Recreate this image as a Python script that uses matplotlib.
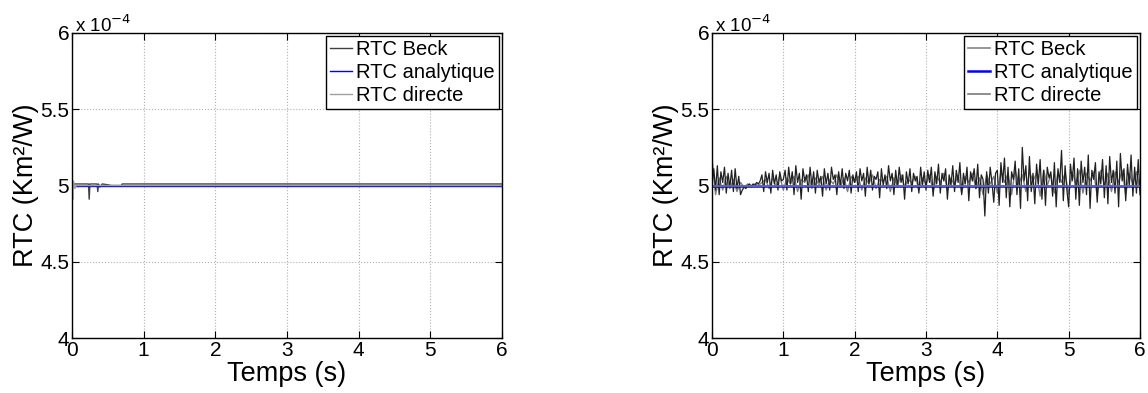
import numpy as np
import matplotlib
matplotlib.use('Agg')
import matplotlib.pyplot as plt
from matplotlib.ticker import FuncFormatter
from matplotlib.lines import Line2D

plt.rcParams['font.family'] = ['Liberation Sans', 'DejaVu Sans']

# valeurs en centièmes de 1e-4 autour de 5e-4
# --- figure de gauche ---
t_beck_g = [0, 0.02, 0.05, 0.23, 0.24, 0.25, 0.35, 0.36, 0.37, 0.39, 0.42, 0.50, 0.55, 0.69, 0.70, 6.0]
d_beck_g = [-2, 1, 1, 1, -9, 1, 1, -4, 1, -1, 1, 0.5, 0, 0, 1, 1]
t_dir_g = [0, 0.01, 0.02, 0.04, 0.06, 6.0]
d_dir_g = [0, -9, 3, -2, 0, 0]
t_ana = [0, 6.0]
d_ana = [0, 0]

# --- figure de droite ---
# RTC directe, pas de 0.025 s
d_dir_d = [
    0, 11, -3, 13, -6, 9, 2, 12, -5, 8, -1, 10, -4, 11, -2, 6,
    -6, -3, -1, -2, 0, 1, -1, 1, 0, 2, 1, 3,
    7, -4, 9, 2, 8, -5, 10, 1, 7, -3, 9, 3,
    4, 10, -3, 12, 1, 9, -6, 13, 2, 8, -9, 11, 3, 7, -4, 12, 0, 9, -5, 10,
    2, 6, -7, 11, 1, 8, -3, 12, 4, 7, -6, 9, 0, 11, -2, 8, 3, 10, -5, 7,
    2, 9, -4, 11, 3, 8, -7, 12, 1, 10, -3, 6, 4, 9, -8, 11, 0, 7, -2, 13,
    3, 8, -6, 10, -1, 12, 2, 7, -9, 9, 1, 11, -4, 8, 3, 6, -5, 12, 0, 9,
    -3, 10, 2, 12, -7, 9, 1, 14, -5, 8, 3, 11, -9, 7, 0, 13, -4, 10, 2, 15,
    -6, 8, 1, 12, -10, 9, 3, 11, -2, 14, -8, 7, 4, -20, 9, -5, 12, 2, -11, 8,
    10, -13, 15, 2, 18, -8, 12, -14, 9, 4, 16, -6, 11, -15, 25, 3, 13, -10, 19, -4,
    8, -12, 14, 1, 17, -9, 10, -13, 12, 5, 9, -7, 15, -14, 11, 2, 23, -10, 13, -3,
    -14, 14, 3, 18, -9, 11, -13, 16, 2, 12, -6, 20, -15, 10, 4, 15, -11, 9, 1, 17,
    -8, 13, -12, 19, 2, 10, -5, 16, -14, 21, 3, 11, -10, 14, 0, 20, -7, 12, -5, 17, -6,
]
# RTC Beck, pas de 0.05 s
d_beck_d = [
    18, -6, 5, -3, 6, -2, 4, -4, 2, -1, 1, 0, 1, 0, 2, 4, -2, 5, -1, 6,
    -3, 5, 1, 6, -4, 4, 2, 7, -2, 5, 0, 6, -3, 4, 1, 7, -1, 5, -4, 6,
    2, 6, -3, 5, 1, 7, -2, 4, 3, 6, -4, 5, 0, 7, -1, 4, 2, 6, -3, 5,
    1, 7, -4, 6, 2, 8, -3, 5, 0, 7, -5, 6, 2, 8, -2, 5, -6, 7, 1, 6,
    -5, 9, 2, 8, -6, 10, 1, 7, -4, 9, 3, 8, -7, 10, 0, 7, -5, 9, 2, 8,
    -6, 9, 1, 10, -5, 8, 3, 9, -7, 10, 0, 8, -4, 9, 2, 10, -6, 8, 1, 9, -3,
]

labels = ['RTC Beck', 'RTC analytique', 'RTC directe']
yticks = [4, 4.5, 5, 5.5, 6]
xticks = [0, 1, 2, 3, 4, 5, 6]


def to_y(d):
    return 5 + np.array(d, dtype=float) / 100


def style_axes(ax, handles):
    ax.set_xlim(0, 6)
    ax.set_ylim(4, 6)
    ax.set_xticks(xticks)
    ax.set_yticks(yticks)
    ax.yaxis.set_major_formatter(FuncFormatter(lambda v, p: '%g' % v))
    ax.tick_params(direction='in', length=5, top=True, right=True, labelsize=15, pad=2)
    ax.grid(True, linestyle=':', color='#b0b0b0', linewidth=0.8)
    for s in ax.spines.values():
        s.set_linewidth(1.0)
    ax.set_xlabel('Temps (s)', fontsize=19.5, labelpad=1)
    ax.set_ylabel('RTC (Km²/W)', fontsize=19.5, labelpad=1)
    ax.text(0.006, 1.004, r'x 10$^{-4}$', transform=ax.transAxes, fontsize=13.5,
            va='baseline', ha='left')
    leg = ax.legend(handles=handles, labels=labels, loc='upper right', fontsize=14.5,
                    handlelength=1.1, handletextpad=0.2, labelspacing=0.2,
                    borderpad=0.2, borderaxespad=0.15, fancybox=False,
                    framealpha=1, edgecolor='black')
    leg.get_frame().set_linewidth(1.0)


fig = plt.figure(figsize=(11.48, 3.93), dpi=100)
ax1 = fig.add_axes([72 / 1148, 55 / 393, 430 / 1148, 305 / 393])
ax2 = fig.add_axes([712 / 1148, 55 / 393, 428 / 1148, 305 / 393])

# gauche
l1, = ax1.plot(t_beck_g, to_y(d_beck_g), color='#404040', lw=1.0)
l2, = ax1.plot(t_ana, to_y(d_ana), color='blue', lw=1.0)
l3, = ax1.plot(t_dir_g, to_y(d_dir_g), color='#a0a0a0', lw=1.0)
style_axes(ax1, [l1, l2, l3])

# droite
t_dir_d = np.arange(len(d_dir_d)) * 0.025
t_beck_d = np.arange(len(d_beck_d)) * 0.05
ax2.plot(t_beck_d, to_y(d_beck_d), color='#808080', lw=1.0)
ax2.plot(t_ana, to_y(d_ana), color='blue', lw=1.8)
ax2.plot(t_dir_d, to_y(d_dir_d), color='#202020', lw=0.9)
ax2.plot(t_ana, to_y(d_ana), color='#7070a8', lw=1.2)
h2 = [Line2D([], [], color='#858585', lw=1.2),
      Line2D([], [], color='blue', lw=1.8),
      Line2D([], [], color='#7a7a7a', lw=1.2)]
style_axes(ax2, h2)

fig.savefig('out.png', dpi=100)
